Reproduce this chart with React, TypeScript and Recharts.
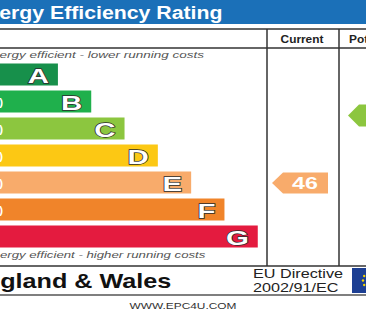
import React from "react";
import { BarChart, Bar, XAxis, YAxis, Cell, LabelList } from "recharts";

// EPC bands, top (most efficient) to bottom
const bands = ["A", "B", "C", "D", "E", "F", "G"];
const ranges = ["(92+)", "(81-91)", "(69-80)", "(55-68)", "(39-54)", "(21-38)", "(1-20)"];
const barLengths = [30, 40, 50, 60, 70, 80, 90];
const bandColors = ["#17904b", "#1fb04c", "#8cc63f", "#fcc814", "#f8ab6b", "#f0842a", "#e41b3f"];

const currentBand = "E";
const currentRating = 46;
const potentialBand = "C";
const potentialRating = 72;

const data = bands.map((b, i) => ({
  band: b,
  range: ranges[i],
  length: barLengths[i],
  current: b === currentBand ? currentRating : null,
  potential: b === potentialBand ? potentialRating : null,
}));

// the visible picture is a crop: chart starts 50px left of the window
const OFF = 50;
const X = (x: number) => x + OFF;
const FONT = "'Liberation Sans', Arial, sans-serif";

function Txt({ x, y, sx = 1, anchor = "start", size, bold, italic, fill = "#222", children }: any) {
  return (
    <text
      transform={`translate(${X(x)},${y}) scale(${sx},1)`}
      textAnchor={anchor}
      fontSize={size}
      fontWeight={bold ? "bold" : "normal"}
      fontStyle={italic ? "italic" : "normal"}
      fill={fill}
      fontFamily={FONT}
    >
      {children}
    </text>
  );
}

const BandLetter = (p: any) => {
  const { x, y, width, value } = p;
  return (
    <text
      transform={`translate(${x + width - 9},${y + 19}) scale(1.4,1)`}
      textAnchor="end"
      fontSize={21}
      fontWeight="bold"
      fontFamily={FONT}
      fill="#fff"
      stroke="#2b2b2b"
      strokeWidth={1.3}
      paintOrder="stroke"
    >
      {value}
    </text>
  );
};

const RangeLabel = (p: any) => {
  const { x, y, value } = p;
  return (
    <text transform={`translate(${x + 8},${y + 15}) scale(1.15,1)`} fontSize={10} fontWeight="bold" fontFamily={FONT} fill="#fff">
      {value}
    </text>
  );
};

const CurrentArrow = (p: any) => {
  const { y, height, payload } = p;
  if (payload.current == null) return null;
  const t = y + 1, b = y + height, m = (t + b) / 2;
  const color = bandColors[bands.indexOf(payload.band)];
  return (
    <g>
      <polygon points={`${X(272)},${m} ${X(283)},${t} ${X(328)},${t} ${X(328)},${b} ${X(283)},${b}`} fill={color} />
      <text transform={`translate(${X(305)},${m + 6}) scale(1.45,1)`} textAnchor="middle" fontSize={16} fontWeight="bold" fontFamily={FONT} fill="#fff">
        {payload.current}
      </text>
    </g>
  );
};

const PotentialArrow = (p: any) => {
  const { y, height, payload } = p;
  if (payload.potential == null) return null;
  const t = y - 13, b = y + height - 13, m = (t + b) / 2;
  const color = bandColors[bands.indexOf(payload.band)];
  return (
    <g>
      <polygon points={`${X(348)},${m} ${X(359)},${t} ${X(404)},${t} ${X(404)},${b} ${X(359)},${b}`} fill={color} />
      <text transform={`translate(${X(381)},${m + 6}) scale(1.45,1)`} textAnchor="middle" fontSize={16} fontWeight="bold" fontFamily={FONT} fill="#fff">
        {payload.potential}
      </text>
    </g>
  );
};

const stars = [0, 1, 2, 3, 4, 5, 6, 7, 8, 9, 10, 11];

export default function App() {
  return (
    <div style={{ position: "absolute", left: 0, top: 0, width: 366, height: 311, overflow: "hidden", background: "#fff" }}>
      <div style={{ position: "absolute", left: -OFF, top: 0 }}>
        <BarChart layout="vertical" width={446} height={311} data={data} margin={{ top: 60.5, right: 5, bottom: 61.5, left: 8 }}>
          {/* frame and headings */}
          <rect x={0} y={0} width={446} height={24} fill="#1b70b8" />
          <Txt x={-28} y={19} size={19} sx={1.12} bold fill="#fff">Energy Efficiency Rating</Txt>
          <line x1={0} x2={446} y1={29} y2={29} stroke="#333" strokeWidth={1.5} />
          <line x1={0} x2={446} y1={48} y2={48} stroke="#333" strokeWidth={1.5} />
          <line x1={X(267)} x2={X(267)} y1={29} y2={266} stroke="#333" strokeWidth={1.5} />
          <line x1={X(339)} x2={X(339)} y1={29} y2={266} stroke="#333" strokeWidth={1.5} />
          <line x1={0} x2={446} y1={266} y2={266} stroke="#333" strokeWidth={1.5} />
          <line x1={0} x2={446} y1={295} y2={295} stroke="#555" strokeWidth={1.5} />
          <Txt x={302} y={43} size={11} sx={1.08} bold anchor="middle">Current</Txt>
          <Txt x={349} y={43} size={11} sx={1.08} bold>Potential</Txt>
          <Txt x={-46.5} y={58} size={9.5} sx={1.42} italic fill="#555">Very energy efficient - lower running costs</Txt>
          <Txt x={-39} y={257.5} size={9.5} sx={1.39} italic fill="#555">Not energy efficient - higher running costs</Txt>
          <Txt x={-32} y={288} size={20} sx={1.26} bold fill="#111">England &amp; Wales</Txt>
          <Txt x={253} y={278} size={12} sx={1.35} fill="#222">EU Directive</Txt>
          <Txt x={253} y={292} size={12} sx={1.35} fill="#222">2002/91/EC</Txt>
          <rect x={X(352)} y={268} width={60} height={25} fill="#1d3f93" />
          {stars.map((s) => (
            <circle key={s} cx={X(372) + 9 * Math.cos((s * Math.PI) / 6)} cy={280.5 + 9 * Math.sin((s * Math.PI) / 6)} r={1.2} fill="#f5d400" />
          ))}
          <Txt x={183} y={309} size={9.5} sx={1.25} anchor="middle" fill="#333">WWW.EPC4U.COM</Txt>

          <XAxis type="number" domain={[0, 130]} hide />
          <YAxis type="category" dataKey="band" hide />
          <Bar dataKey="length" stackId="s" barSize={22} isAnimationActive={false}>
            {data.map((d, i) => (
              <Cell key={d.band} fill={bandColors[i]} />
            ))}
            <LabelList dataKey="band" content={BandLetter} />
            <LabelList dataKey="range" content={RangeLabel} />
          </Bar>
          <Bar dataKey="current" stackId="s" barSize={22} shape={CurrentArrow} isAnimationActive={false} />
          <Bar dataKey="potential" stackId="s" barSize={22} shape={PotentialArrow} isAnimationActive={false} />
        </BarChart>
      </div>
    </div>
  );
}
